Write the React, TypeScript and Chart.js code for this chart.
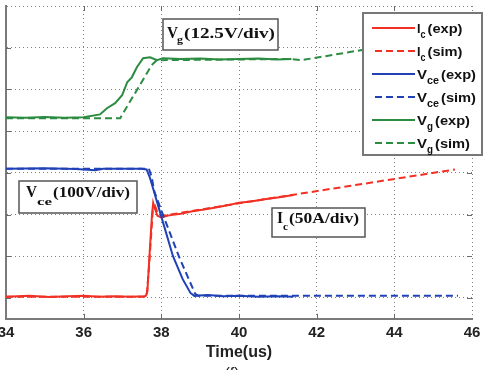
import React, { useEffect, useRef } from 'react';
import { Chart, registerables } from 'chart.js';

Chart.register(...registerables);

// ---------- data (time in us, value in scope divisions) ----------
const icExpT = [34.0, 34.6, 35.1, 35.6, 36.0, 36.4, 36.8, 37.2, 37.55, 37.6, 37.64, 37.7, 37.76, 37.79, 37.83, 37.9, 38.0, 38.2, 38.5, 38.8, 39.1, 39.4, 39.7, 40.0, 40.3, 40.7, 41.0, 41.4];
const icExpV = [-0.97, -0.95, -0.98, -0.96, -0.95, -0.97, -0.96, -0.97, -0.96, -0.95, -0.85, 0.1, 1.0, 1.28, 1.15, 0.97, 0.93, 0.98, 1.02, 1.08, 1.12, 1.17, 1.22, 1.28, 1.31, 1.37, 1.41, 1.47];

const icSimT = [34.0, 37.62, 37.68, 37.78, 37.84, 37.9, 38.0, 38.1, 40.0, 45.56];
const icSimV = [-0.97, -0.97, -0.3, 1.1, 1.2, 1.05, 0.97, 0.98, 1.27, 2.08];

const vceExpT = [34.0, 35.0, 35.8, 36.3, 36.5, 37.0, 37.5, 37.62, 37.7, 37.79, 38.0, 38.3, 38.55, 38.75, 38.85, 39.2, 39.6, 40.0, 40.5, 41.0, 41.4];
const vceExpV = [2.1, 2.11, 2.09, 2.06, 2.1, 2.1, 2.1, 2.08, 1.9, 1.62, 0.95, 0.0, -0.55, -0.88, -0.95, -0.93, -0.96, -0.95, -0.97, -0.96, -0.97];

const vceSimT = [34.0, 37.68, 37.75, 37.82, 38.0, 38.45, 38.87, 38.95, 45.64];
const vceSimV = [2.1, 2.1, 1.9, 1.55, 1.1, 0.0, -0.9, -0.95, -0.95];

const vgExpT = [34.0, 34.5, 35.0, 35.5, 36.0, 36.42, 36.6, 36.81, 36.99, 37.12, 37.24, 37.37, 37.53, 37.71, 37.89, 38.04, 38.5, 39.0, 39.5, 40.0, 40.5, 41.0, 41.35];
const vgExpV = [3.33, 3.32, 3.34, 3.32, 3.33, 3.4, 3.55, 3.67, 3.86, 4.17, 4.29, 4.53, 4.75, 4.77, 4.7, 4.75, 4.73, 4.74, 4.72, 4.73, 4.74, 4.72, 4.73];

const vgSimT = [34.0, 36.94, 37.75, 37.88, 41.3, 41.6, 43.2, 45.6];
const vgSimV = [3.31, 3.31, 4.58, 4.7, 4.73, 4.7, 4.95, 5.3];

const xTickValues = [34, 36, 38, 40, 42, 44, 46];
const yGridValues = [-1, 0, 1, 2, 3, 4, 5, 6];

const legendMain = ['I', 'I', 'V', 'V', 'V', 'V'];
const legendSub = ['c', 'c', 'ce', 'ce', 'g', 'g'];
const legendRest = ['(exp)', '(sim)', '(exp)', '(sim)', '(exp)', '(sim)'];

const RED = 'rgb(242,48,36)';
const BLUE = 'rgb(32,66,182)';
const GREEN = 'rgb(44,140,66)';
const legendColors = [RED, RED, BLUE, BLUE, GREEN, GREEN];
const legendDashed = [false, true, false, true, false, true];

const DASH = [7, 4];
const OX = 10; // canvas x = page x + OX

const pts = (t: number[], v: number[]) => t.map((x, i) => ({ x, y: v[i] }));

const SANS = '"Liberation Sans", Arial, sans-serif';
const SERIF = '"Liberation Serif", "Times New Roman", serif';

function fitText(ctx: CanvasRenderingContext2D, text: string, x: number, y: number, font: string, width?: number) {
  ctx.save();
  ctx.font = font;
  ctx.textBaseline = 'alphabetic';
  ctx.textAlign = 'left';
  const w = ctx.measureText(text).width;
  const sx = width ? width / w : 1;
  ctx.translate(x + OX, y);
  ctx.scale(sx, 1);
  ctx.fillText(text, 0, 0);
  ctx.restore();
}

function box(ctx: CanvasRenderingContext2D, x: number, y: number, w: number, h: number, stroke: string, lw: number) {
  ctx.save();
  ctx.fillStyle = '#ffffff';
  ctx.fillRect(x + OX, y, w, h);
  ctx.strokeStyle = stroke;
  ctx.lineWidth = lw;
  ctx.strokeRect(x + OX, y, w, h);
  ctx.restore();
}

const overlay = {
  id: 'overlay',
  afterDatasetsDraw(chart: any) {
    const ctx: CanvasRenderingContext2D = chart.ctx;
    const { left, right, top, bottom } = chart.chartArea;
    const xs = chart.scales.x;
    const ys = chart.scales.y;

    // inward tick marks
    ctx.save();
    ctx.strokeStyle = '#6a6a6a';
    ctx.lineWidth = 1;
    ctx.beginPath();
    xTickValues.slice(1, -1).forEach((v) => {
      const px = Math.round(xs.getPixelForValue(v)) + 0.5;
      ctx.moveTo(px, bottom);
      ctx.lineTo(px, bottom - 5);
      ctx.moveTo(px, top);
      ctx.lineTo(px, top + 5);
    });
    yGridValues.slice(0, -1).forEach((v) => {
      const py = Math.round(ys.getPixelForValue(v)) + 0.5;
      ctx.moveTo(left, py);
      ctx.lineTo(left + 5, py);
      ctx.moveTo(right, py);
      ctx.lineTo(right - 5, py);
    });
    ctx.stroke();
    ctx.restore();

    ctx.fillStyle = '#111';
    // V_g annotation
    box(ctx, 163, 19, 115, 31, '#555', 1.5);
    ctx.fillStyle = '#111';
    fitText(ctx, 'V', 167, 38, `bold 16px ${SERIF}`, 11);
    fitText(ctx, 'g', 177, 43, `bold 11px ${SERIF}`, 6);
    fitText(ctx, '(12.5V/div)', 184, 38, `bold 14px ${SERIF}`, 91);

    // V_ce annotation
    box(ctx, 19, 181, 118, 32, '#555', 1.5);
    ctx.fillStyle = '#111';
    fitText(ctx, 'V', 26, 197, `bold 16px ${SERIF}`, 11);
    fitText(ctx, 'ce', 37, 205, `bold 11px ${SERIF}`, 15);
    fitText(ctx, '(100V/div)', 53, 197, `bold 14px ${SERIF}`, 77);

    // I_c annotation
    box(ctx, 272, 208, 93, 29, '#555', 1.5);
    ctx.fillStyle = '#111';
    fitText(ctx, 'I', 277, 223, `bold 16px ${SERIF}`, 6);
    fitText(ctx, 'c', 283, 230, `bold 11px ${SERIF}`, 5);
    fitText(ctx, '(50A/div)', 289, 223, `bold 15px ${SERIF}`, 70);

    // legend
    box(ctx, 363, 13, 119, 142, '#777', 2);
    legendMain.forEach((m, i) => {
      const cy = 28 + i * 23;
      ctx.save();
      ctx.strokeStyle = legendColors[i];
      ctx.lineWidth = 2;
      ctx.setLineDash(legendDashed[i] ? DASH : []);
      ctx.beginPath();
      ctx.moveTo((legendDashed[i] ? 375 : 372) + OX, cy);
      ctx.lineTo(415 + OX, cy);
      ctx.stroke();
      ctx.restore();
      ctx.fillStyle = '#111';
      const isI = m === 'I';
      const mw = isI ? 3.5 : 10;
      const sw = legendSub[i] === 'ce' ? 12 : legendSub[i] === 'g' ? 6 : 5;
      fitText(ctx, m, 417, cy + 5, `bold 13px ${SANS}`, mw);
      fitText(ctx, legendSub[i], 417 + mw, cy + 10, `bold 10px ${SANS}`, sw);
      fitText(ctx, legendRest[i], 417 + mw + sw + 2, cy + 5, `bold 13px ${SANS}`, 35);
    });

    // partially visible panel caption
    ctx.save();
    ctx.fillStyle = '#222';
    ctx.font = `16px ${SANS}`;
    ctx.textAlign = 'center';
    ctx.textBaseline = 'alphabetic';
    ctx.fillText('(f)', 232 + OX, 379);
    ctx.restore();
  },
};

export default function App() {
  const ref = useRef<HTMLCanvasElement | null>(null);

  useEffect(() => {
    if (!ref.current) return;
    const mk = (label: string, t: number[], v: number[], color: string, dashed: boolean) => ({
      label,
      data: pts(t, v),
      borderColor: color,
      backgroundColor: color,
      borderWidth: 2,
      borderDash: dashed ? DASH : [],
      pointRadius: 0,
      fill: false,
      tension: 0,
    });
    const chart = new Chart(ref.current, {
      type: 'line',
      data: {
        datasets: [
          mk('Vg(sim)', vgSimT, vgSimV, GREEN, true),
          mk('Vg(exp)', vgExpT, vgExpV, GREEN, false),
          mk('Vce(sim)', vceSimT, vceSimV, BLUE, true),
          mk('Vce(exp)', vceExpT, vceExpV, BLUE, false),
          mk('Ic(sim)', icSimT, icSimV, RED, true),
          mk('Ic(exp)', icExpT, icExpV, RED, false),
        ],
      },
      options: {
        animation: false,
        responsive: false,
        devicePixelRatio: 1,
        layout: { padding: { left: 16, right: 16, top: 6, bottom: 4 } },
        plugins: { legend: { display: false }, tooltip: { enabled: false } },
        scales: {
          x: {
            type: 'linear',
            min: 34,
            max: 46,
            afterBuildTicks: (s: any) => {
              s.ticks = xTickValues.map((v) => ({ value: v }));
            },
            ticks: {
              color: '#222',
              font: { family: SANS, size: 15, weight: 'bold' },
              padding: 5,
              maxRotation: 0,
              autoSkip: false,
            },
            grid: { color: '#808080', lineWidth: 1, drawTicks: false },
            border: { display: true, color: '#7a7a7a', width: 2, dash: [1, 3] },
            title: {
              display: true,
              text: 'Time(us)',
              color: '#222',
              font: { family: SANS, size: 16, weight: 'bold' },
              padding: { top: -4, bottom: 4 },
            },
          },
          y: {
            type: 'linear',
            min: -1.5,
            max: 6,
            afterBuildTicks: (s: any) => {
              s.ticks = yGridValues.map((v) => ({ value: v }));
            },
            ticks: { display: false },
            grid: { color: '#808080', lineWidth: 1, drawTicks: false },
            border: { display: true, color: '#7a7a7a', width: 2, dash: [1, 3] },
          },
        },
      },
      plugins: [overlay],
    } as any);
    return () => chart.destroy();
  }, []);

  return (
    <div style={{ position: 'absolute', left: 0, top: 0, width: 488, height: 370, overflow: 'hidden', background: '#fff' }}>
      <canvas ref={ref} width={498} height={370} style={{ display: 'block', marginLeft: -OX, width: 498, height: 370 }} />
    </div>
  );
}
